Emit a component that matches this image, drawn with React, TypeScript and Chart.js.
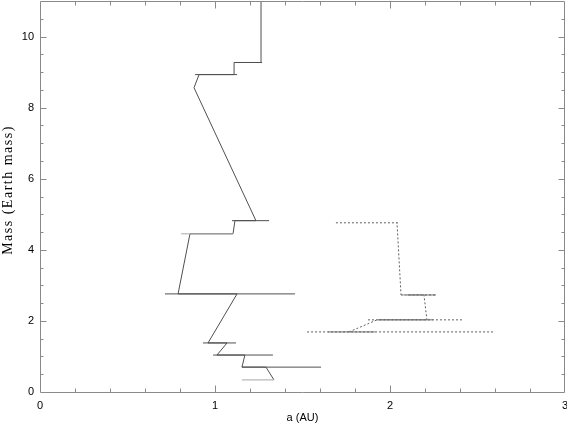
import React, { useEffect, useRef } from 'react';
import { Chart, registerables } from 'chart.js';
Chart.register(...registerables);

// Inner planet growth track (solid): semimajor axis a (AU) and mass (Earth masses)
const innerTrackA = [1.337, 1.291, 1.154, 1.171, 1.011, 1.069, 0.96, 1.126, 0.789, 0.857, 1.103, 1.114, 1.234, 0.88, 0.909, 1.109, 1.109, 1.263, 1.263];
const innerTrackM = [0.34, 0.7, 0.7, 1.04, 1.04, 1.38, 1.38, 2.76, 2.76, 4.45, 4.45, 4.82, 4.82, 8.56, 8.93, 8.93, 9.27, 9.27, 11.5];

// Inner planet feeding-zone extents
const innerBarM = [0.7, 1.04, 1.38, 2.76, 4.82, 8.93, 9.27];
const innerBarMin = [1.154, 0.989, 0.931, 0.714, 1.097, 0.886, 1.109];
const innerBarMax = [1.606, 1.331, 1.12, 1.457, 1.309, 1.126, 1.269];
const innerFaintBarM = [0.34, 4.45];
const innerFaintBarMin = [1.154, 0.806];
const innerFaintBarMax = [1.337, 1.103];

// Outer planet growth track (dotted)
const outerTrackA = [1.766, 1.926, 2.211, 2.194, 2.063, 2.04];
const outerTrackM = [1.69, 2.03, 2.03, 2.73, 2.73, 4.76];
const outerBarM = [1.69, 2.03, 2.73, 4.76];
const outerBarMin = [1.526, 1.874, 2.063, 1.691];
const outerBarMax = [2.589, 2.417, 2.263, 2.051];
const outerSolidM = [1.69, 2.03, 2.73];
const outerSolidMin = [1.646, 1.931, 2.1];
const outerSolidMax = [1.914, 2.246, 2.263];

const xTickLabels = [0, 1, 2, 3];
const yTickLabels = [0, 2, 4, 6, 8, 10];

const DARK = '#505050';
const FAINT = '#a8a8a8';
const FRAME = '#8a8a8a';

function lineDs(points: { x: number; y: number }[], color: string, dash: number[] = []) {
  return {
    data: points,
    showLine: true,
    borderColor: color,
    borderWidth: 1,
    borderDash: dash,
    pointRadius: 0,
    pointHoverRadius: 0,
    fill: false,
    tension: 0,
  };
}

function bars(ms: number[], mins: number[], maxs: number[], color: string, dash: number[] = []) {
  return ms.map((m, i) => lineDs([{ x: mins[i], y: m }, { x: maxs[i], y: m }], color, dash));
}

const zeroPad = (s: any) => {
  s.paddingLeft = 0;
  s.paddingRight = 0;
  s.paddingTop = 0;
  s.paddingBottom = 0;
};

const framePlugin = {
  id: 'frameTicks',
  afterDatasetsDraw(chart: any) {
    const { ctx, chartArea } = chart;
    const { left, right, top, bottom } = chartArea;
    const xs = chart.scales.x;
    const ys = chart.scales.y;
    ctx.save();
    ctx.strokeStyle = FRAME;
    ctx.lineWidth = 1;
    ctx.beginPath();
    const L = Math.round(left) + 0.5;
    const R = Math.round(right) - 0.5;
    const T = Math.round(top) + 0.5;
    const B = Math.round(bottom) + 0.5;
    ctx.moveTo(L, T); ctx.lineTo(R, T); ctx.lineTo(R, B); ctx.lineTo(L, B); ctx.closePath();
    for (let i = 1; i < 15; i++) {
      const v = i * 0.2;
      const major = i % 5 === 0;
      const len = major ? 7 : 4;
      const px = Math.round(xs.getPixelForValue(v)) + 0.5;
      ctx.moveTo(px, B); ctx.lineTo(px, B - len);
      ctx.moveTo(px, T); ctx.lineTo(px, T + len);
    }
    for (let i = 1; i <= 22; i++) {
      const v = i * 0.5;
      const major = i % 4 === 0;
      const len = major ? 6 : 3;
      const py = Math.round(ys.getPixelForValue(v)) + 0.5;
      if (py < T + 1) continue;
      ctx.moveTo(L, py); ctx.lineTo(L + len, py);
      ctx.moveTo(R, py); ctx.lineTo(R - len, py);
    }
    ctx.stroke();

    ctx.fillStyle = '#000';
    ctx.font = '11px "Liberation Sans", Arial, sans-serif';
    ctx.textAlign = 'center';
    ctx.textBaseline = 'middle';
    ctx.fillText('a (AU)', (left + right) / 2, 418);

    ctx.translate(8, 190);
    ctx.rotate(-Math.PI / 2);
    ctx.font = '14px "Liberation Serif", "DejaVu Serif", serif';
    (ctx as any).letterSpacing = '1.5px';
    ctx.fillText('Mass (Earth mass)', 0, 0);
    ctx.restore();
  },
};

export default function App() {
  const ref = useRef<HTMLCanvasElement>(null);
  useEffect(() => {
    if (!ref.current) return;
    const innerTrack = innerTrackA.map((a, i) => ({ x: a, y: innerTrackM[i] }));
    const outerTrack = outerTrackA.map((a, i) => ({ x: a, y: outerTrackM[i] }));
    const dot = [2, 2];
    const datasets: any[] = [
      ...bars(innerFaintBarM, innerFaintBarMin, innerFaintBarMax, FAINT),
      ...bars(innerBarM, innerBarMin, innerBarMax, DARK),
      lineDs(innerTrack, DARK),
      ...bars(outerBarM, outerBarMin, outerBarMax, '#606060', dot),
      ...bars(outerSolidM, outerSolidMin, outerSolidMax, '#707070'),
      lineDs(outerTrack, '#606060', dot),
    ];
    const chart = new Chart(ref.current, {
      type: 'scatter',
      data: { datasets },
      options: {
        responsive: false,
        animation: false,
        events: [],
        layout: { padding: { top: 1, right: 2, left: 0, bottom: 0 } },
        plugins: { legend: { display: false }, tooltip: { enabled: false }, title: { display: false } },
        scales: {
          x: {
            type: 'linear',
            min: 0,
            max: 3,
            afterFit: (s: any) => { s.height = 36; zeroPad(s); },
            afterBuildTicks: (s: any) => { s.ticks = xTickLabels.map((v) => ({ value: v })); },
            grid: { display: false, drawTicks: false },
            border: { display: false },
            ticks: {
              padding: 7,
              color: '#000',
              font: { family: '"Liberation Sans", Arial, sans-serif', size: 11 },
              maxRotation: 0,
              autoSkip: false,
            },
          },
          y: {
            type: 'linear',
            min: 0,
            max: 11,
            afterFit: (s: any) => { s.width = 40; zeroPad(s); },
            afterBuildTicks: (s: any) => { s.ticks = yTickLabels.map((v) => ({ value: v })); },
            grid: { display: false, drawTicks: false },
            border: { display: false },
            ticks: {
              padding: 6,
              color: '#000',
              font: { family: '"Liberation Sans", Arial, sans-serif', size: 11 },
              autoSkip: false,
            },
          },
        },
      },
      plugins: [framePlugin],
    });
    return () => chart.destroy();
  }, []);
  return (
    <div style={{ position: 'absolute', left: 0, top: 0, width: 567, height: 428, background: '#fff' }}>
      <canvas ref={ref} width={567} height={428} style={{ display: 'block' }} />
    </div>
  );
}
